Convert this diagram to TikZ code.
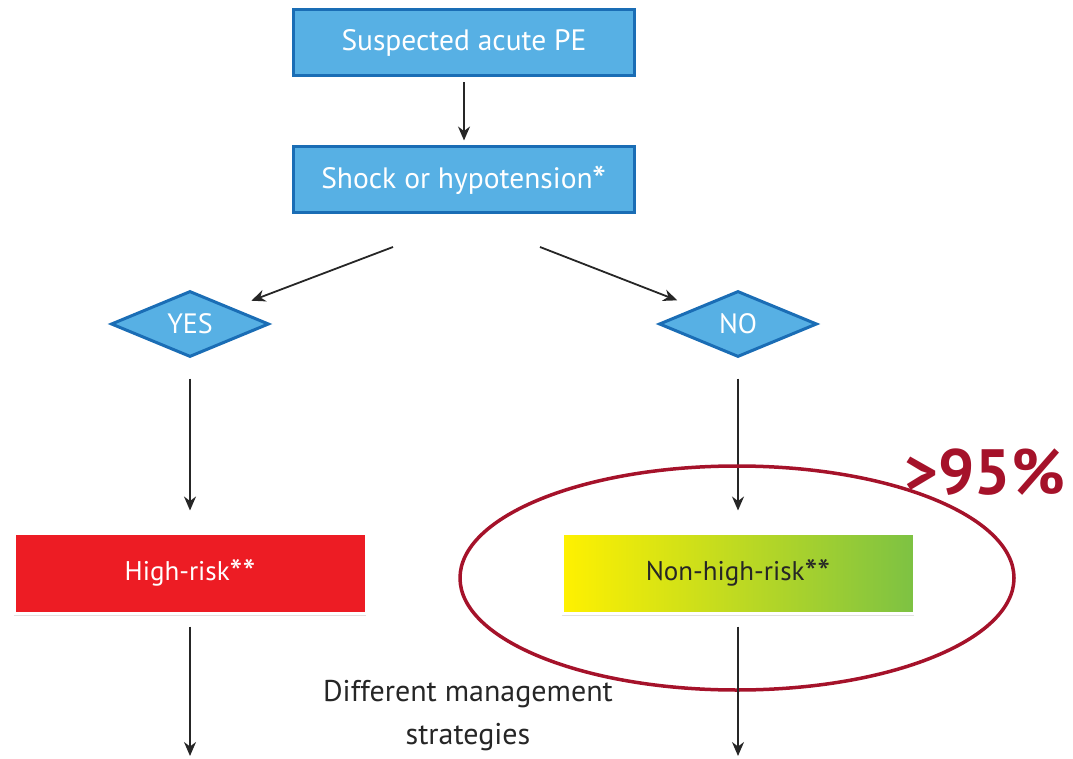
\documentclass[tikz,border=0pt]{standalone}
\usepackage{fontspec}
\setmainfont{PT Sans}
\usetikzlibrary{shapes.geometric,arrows.meta,shadows}

\definecolor{boxblue}{HTML}{57B0E4}
\definecolor{edgeblue}{HTML}{1A6DB5}
\definecolor{riskred}{HTML}{ED1C24}
\definecolor{lowyellow}{HTML}{FFF100}
\definecolor{lowgreen}{HTML}{7DC243}
\definecolor{ringred}{HTML}{A5122A}

\newcommand{\noteast}{\raisebox{-0.2em}{\scalebox{1.35}{*}}}

\tikzset{
  bluebox/.style={draw=edgeblue, line width=3pt, fill=boxblue, text=white,
    minimum width=341pt, minimum height=66pt, font=\fontsize{29.5}{32}\selectfont},
  choice/.style={diamond, draw=edgeblue, line width=3pt, fill=boxblue, text=white,
    minimum width=158pt, minimum height=66pt, inner sep=0pt, aspect=2.4,
    font=\fontsize{28}{30}\selectfont},
  riskbox/.style={draw=white, line width=3pt, minimum width=352pt, minimum height=80pt,
    drop shadow={shadow xshift=0pt, shadow yshift=-3pt, opacity=0.3, fill=black!40},
    font=\fontsize{27}{30}\selectfont},
  arr/.style={-{Stealth[length=14pt,width=12pt]}, line width=1.8pt, black!85}
}

\begin{document}
\begin{tikzpicture}[x=1pt,y=-1pt]
  \useasboundingbox (0,0) rectangle (1073,759);

  % top of the chart
  \node[bluebox] (suspect) at (464,43) {Suspected acute PE};
  \node[bluebox] (shock) at (464,180) {Shock or hypotension\noteast};
  \draw[arr, shorten <=5pt, shorten >=5pt] (suspect) -- (shock);

  % yes / no split
  \node[choice] (yes) at (190,324) {YES};
  \node[choice] (no) at (738,324) {NO};
  \coordinate (splitl) at (393,247);
  \coordinate (splitr) at (540,247);
  \draw[arr, shorten >=20pt] (splitl) -- (yes);
  \draw[arr, shorten >=20pt] (splitr) -- (no);

  % risk classes
  \node[riskbox, fill=riskred, text=white] (high) at (190,573) {High-risk\noteast\noteast};
  \node[riskbox, left color=lowyellow, right color=lowgreen, text=black!85]
    (nonhigh) at (738,573) {Non-high-risk\noteast\noteast};
  \draw[arr, shorten <=20pt, shorten >=21pt] (yes) -- (high);
  \draw[arr, shorten <=20pt, shorten >=21pt] (no) -- (nonhigh);

  \draw[ringred, line width=3.5pt] (737,578) ellipse [x radius=277pt, y radius=112pt];
  \node[text=ringred, font=\fontsize{64}{66}\selectfont\bfseries] (share) at (985,472) {>95\%};

  % bottom
  \coordinate (outl) at (190,756);
  \coordinate (outr) at (738,756);
  \draw[arr, shorten <=12pt] (high) -- (outl);
  \draw[arr, shorten <=12pt] (nonhigh) -- (outr);
  \node[align=center, font=\fontsize{30}{43}\selectfont, text=black!85] (strategy)
    at (468,716) {Different management\\strategies};
\end{tikzpicture}
\end{document}
